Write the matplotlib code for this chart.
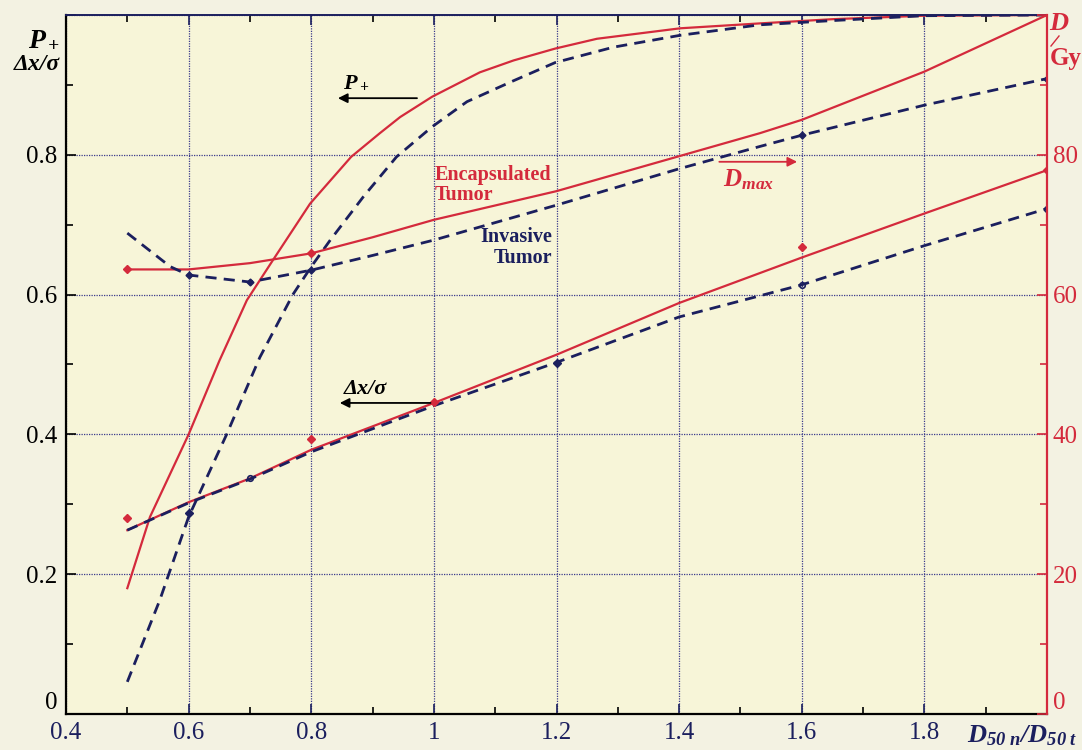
import matplotlib.pyplot as plt
from matplotlib.lines import Line2D
from matplotlib.ticker import MultipleLocator

plt.rcParams["font.family"] = ["Liberation Serif", "DejaVu Serif"]
plt.rcParams["mathtext.fontset"] = "custom"
plt.rcParams["mathtext.rm"] = "Liberation Serif"
plt.rcParams["mathtext.it"] = "Liberation Serif:italic"
plt.rcParams["mathtext.bf"] = "Liberation Serif:italic:bold"

RED = "#d42a3c"
NAVY = "#1b1f5e"

# ratio D50n / D50t
p_enc_x = [0.5, 0.537, 0.6, 0.65, 0.695, 0.738, 0.798, 0.865, 0.912, 0.945, 0.997,
           1.075, 1.13, 1.198, 1.266, 1.402, 1.532, 1.65, 1.8, 2.0]
p_enc_y = [0.18, 0.282, 0.40, 0.505, 0.592, 0.650, 0.730, 0.797, 0.831, 0.854, 0.883,
           0.918, 0.935, 0.952, 0.966, 0.981, 0.988, 0.994, 0.999, 1.0]

p_inv_x = [0.5, 0.553, 0.6, 0.662, 0.716, 0.77, 0.8, 0.831, 0.885, 0.939, 0.997,
           1.054, 1.13, 1.198, 1.293, 1.402, 1.532, 1.65, 1.8, 2.0]
p_inv_y = [0.046, 0.163, 0.282, 0.40, 0.51, 0.60, 0.64, 0.678, 0.740, 0.797, 0.840,
           0.876, 0.906, 0.932, 0.954, 0.971, 0.986, 0.992, 0.999, 1.0]

dx_x = [0.5, 0.6, 0.7, 0.8, 1.0, 1.2, 1.4, 1.6, 1.8, 2.0]
dx_enc = [0.263, 0.303, 0.337, 0.378, 0.445, 0.514, 0.588, 0.653, 0.716, 0.778]
dx_inv = [0.263, 0.302, 0.336, 0.375, 0.441, 0.503, 0.568, 0.614, 0.670, 0.723]

dmax_enc_x = [0.5, 0.6, 0.7, 0.8, 0.9, 1.0, 1.2, 1.4, 1.532, 1.6, 1.8, 2.0]
dmax_enc = [63.6, 63.6, 64.5, 65.9, 68.2, 70.7, 74.8, 79.8, 83.1, 85.0, 91.9, 100.0]

dmax_inv_x = [0.5, 0.57, 0.6, 0.7, 0.8, 0.9, 1.0, 1.2, 1.4, 1.532, 1.6, 1.8, 2.0]
dmax_inv = [68.8, 64.0, 62.8, 61.8, 63.5, 65.6, 67.8, 72.8, 78.0, 81.2, 82.8, 87.1, 90.9]

# calculated points marked on the curves
dx_enc_pts_x = [0.5, 0.8, 1.0, 1.6, 2.0]
dx_enc_pts_y = [0.28, 0.393, 0.446, 0.668, 0.778]
dx_inv_pts_x = [0.6, 1.2]
dx_inv_pts_y = [0.288, 0.502]
dx_inv_open_x = [0.7, 1.6, 2.0]
dx_inv_open_y = [0.337, 0.614, 0.723]
dmax_enc_pts_x = [0.5, 0.8]
dmax_enc_pts_y = [63.6, 65.9]
dmax_inv_pts_x = [0.6, 0.7, 0.8, 1.6, 2.0]
dmax_inv_pts_y = [62.8, 61.8, 63.5, 82.8, 90.9]

x_ticks = [0.4, 0.6, 0.8, 1.0, 1.2, 1.4, 1.6, 1.8, 2.0]
x_labels = ["0.4", "0.6", "0.8", "1", "1.2", "1.4", "1.6", "1.8", ""]
y_ticks = [0, 0.2, 0.4, 0.6, 0.8, 1.0]
y_labels = ["0", "0.2", "0.4", "0.6", "0.8", ""]
d_ticks = [0, 20, 40, 60, 80, 100]
d_labels = ["0", "20", "40", "60", "80", ""]

fig = plt.figure(figsize=(10.82, 7.5), dpi=100, facecolor="#f3f2e2")
ax = fig.add_axes([66 / 1082, 36 / 750, 981 / 1082, 699 / 750])
ax.set_facecolor("#f7f5d8")
ax.set_xlim(0.4, 2.0)
ax.set_ylim(0, 1)

ax.set_xticks(x_ticks, x_labels)
ax.set_yticks(y_ticks, y_labels)
ax.xaxis.set_minor_locator(MultipleLocator(0.1))
ax.yaxis.set_minor_locator(MultipleLocator(0.1))
ax.tick_params(which="both", direction="in", top=True, labelsize=18)
ax.tick_params(which="major", length=7, width=1.2)
ax.tick_params(which="minor", length=5, width=1.2)
ax.tick_params(axis="x", colors=NAVY, labelcolor=NAVY, pad=6)
ax.tick_params(axis="y", colors="black", pad=6)
ax.grid(True, which="major", color="#3b3a8c", linestyle=(0, (1, 1)), linewidth=0.9)
# the "0" at the origin sits above the corner, clear of the "0.4"
ax.get_yticklabels()[0].set_verticalalignment("bottom")

for side in ["left", "bottom"]:
    ax.spines[side].set_color("black")
    ax.spines[side].set_linewidth(1.6)
ax.spines["top"].set_color(NAVY)
ax.spines["top"].set_linewidth(1.4)
ax.spines["right"].set_visible(False)

dash = (0, (4, 2.6))
ax.plot(p_enc_x, p_enc_y, color=RED, lw=1.6)
ax.plot(p_inv_x, p_inv_y, color=NAVY, lw=2.0, linestyle=dash)
ax.plot(dx_x, dx_enc, color=RED, lw=1.6)
ax.plot(dx_x, dx_inv, color=NAVY, lw=2.0, linestyle=dash)
ax.plot(dx_enc_pts_x, dx_enc_pts_y, "D", color=RED, ms=4, ls="none")
ax.plot(dx_inv_pts_x, dx_inv_pts_y, "D", color=NAVY, ms=4, ls="none")
ax.plot(dx_inv_open_x, dx_inv_open_y, "o", mfc="none", mec=NAVY, ms=4, mew=1.2, ls="none")

ax2 = ax.twinx()
ax2.set_ylim(0, 100)
ax2.set_yticks(d_ticks, d_labels)
ax2.yaxis.set_minor_locator(MultipleLocator(10))
ax2.tick_params(which="both", direction="in", colors=RED, labelcolor=RED, labelsize=18, pad=4)
ax2.tick_params(which="major", length=7, width=1.2)
ax2.tick_params(which="minor", length=5, width=1.2)
for side in ["left", "top", "bottom"]:
    ax2.spines[side].set_visible(False)
ax2.spines["right"].set_color(RED)
ax2.spines["right"].set_linewidth(1.6)
ax2.get_yticklabels()[0].set_verticalalignment("bottom")

ax2.plot(dmax_enc_x, dmax_enc, color=RED, lw=1.6)
ax2.plot(dmax_inv_x, dmax_inv, color=NAVY, lw=2.0, linestyle=dash)
ax2.plot(dmax_enc_pts_x, dmax_enc_pts_y, "D", color=RED, ms=4, ls="none")
ax2.plot(dmax_inv_pts_x, dmax_inv_pts_y, "D", color=NAVY, ms=3.5, ls="none")

# axis titles
fig.text(60 / 1082, 1 - 40 / 750, r"$\mathbf{P_+}$", ha="right", va="center", fontsize=20)
fig.text(60 / 1082, 1 - 64 / 750, "Δx/σ", ha="right", va="center", fontsize=17,
         fontweight="bold", fontstyle="italic")
fig.text(1049 / 1082, 1 - 23 / 750, "D", ha="left", va="center", fontsize=19,
         color=RED, fontweight="bold", fontstyle="italic")
fig.add_artist(Line2D([1051 / 1082, 1059 / 1082], [1 - 46 / 750, 1 - 36 / 750],
                      color=RED, lw=1.0, transform=fig.transFigure))
fig.text(1050 / 1082, 1 - 59 / 750, "Gy", ha="left", va="center", fontsize=18,
         color=RED, fontweight="bold")
ax.text(1.87, -0.014, r"$\mathbf{D_{50\ n}/D_{50\ t}}$", ha="left", va="top",
        fontsize=19, color=NAVY)

# curve annotations
ax.annotate("", xy=(0.839, 0.881), xytext=(0.977, 0.881),
            arrowprops=dict(arrowstyle="-|>", color="black", lw=1.3, mutation_scale=14))
ax.text(0.873, 0.89, r"$\mathbf{P_+}$", ha="center", va="bottom", fontsize=16)
ax.annotate("", xy=(0.842, 0.445), xytext=(0.999, 0.445),
            arrowprops=dict(arrowstyle="-|>", color="black", lw=1.3, mutation_scale=14))
ax.text(0.889, 0.451, "Δx/σ", ha="center", va="bottom", fontsize=16,
        fontweight="bold", fontstyle="italic")
ax.annotate("", xy=(1.597, 0.79), xytext=(1.461, 0.79),
            arrowprops=dict(arrowstyle="-|>", color=RED, lw=1.3, mutation_scale=14))
ax.text(1.472, 0.782, r"$\mathbf{D_{max}}$", ha="left", va="top", fontsize=18, color=RED)
ax.text(1.002, 0.786, "Encapsulated\nTumor", ha="left", va="top", fontsize=14.5,
        color=RED, fontweight="bold", linespacing=1.05)
ax.text(1.193, 0.697, "Invasive\nTumor", ha="right", va="top", fontsize=14.5,
        color=NAVY, fontweight="bold", linespacing=1.05)

fig.savefig("out.png", dpi=100, facecolor=fig.get_facecolor())
